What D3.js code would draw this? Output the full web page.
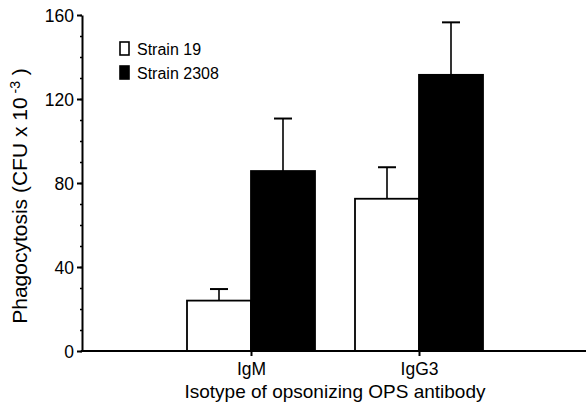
<!DOCTYPE html>
<html>
<head>
<meta charset="utf-8">
<script src="https://cdn.jsdelivr.net/npm/d3@7"></script>
<style>
  body { margin: 0; background: #fff; }
  text { font-family: "Liberation Sans", Arial, Helvetica, sans-serif; fill: #000; }
</style>
</head>
<body>
<div id="chart"></div>
<script>
let isotypes = ["IgM", "IgG3"];
let strains = ["Strain 19", "Strain 2308"];
let strain19 = [24, 72.5];
let strain2308 = [85.7, 131.5];
let err19 = [5.5, 15];
let err2308 = [25, 25];
let yTicks = [0, 40, 80, 120, 160];
let yMinor = d3.range(0, 161, 10);

let width = 586, height = 409;
let axisX = 82;

let svg = d3.select("#chart")
  .append("svg")
  .attr("width", width)
  .attr("height", height);

let y = d3.scaleLinear().domain([0, 160]).range([351, 15]);
let x = d3.scalePoint().domain(isotypes).range([axisX + 1, width + 1]).padding(1);
let sub = d3.scaleBand().domain(strains).range([-64, 64]);
let fill = d3.scaleOrdinal().domain(strains).range(["#fff", "#000"]);

let rows = [];
isotypes.forEach(function (iso, i) {
  rows.push({ iso: iso, strain: strains[0], value: strain19[i], err: err19[i] });
  rows.push({ iso: iso, strain: strains[1], value: strain2308[i], err: err2308[i] });
});

// error bars (upper half only)
let eb = svg.append("g").attr("stroke", "#000").attr("stroke-width", 1.6);
rows.forEach(function (d) {
  let cx = x(d.iso) + sub(d.strain) + sub.bandwidth() / 2;
  eb.append("line")
    .attr("x1", cx).attr("x2", cx)
    .attr("y1", y(d.value)).attr("y2", y(d.value + d.err));
  eb.append("line")
    .attr("x1", cx - 9).attr("x2", cx + 9)
    .attr("y1", y(d.value + d.err)).attr("y2", y(d.value + d.err))
    .attr("stroke-width", 2);
});

// bars
svg.append("g")
  .selectAll("rect")
  .data(rows)
  .enter()
  .append("rect")
  .attr("x", function (d) { return x(d.iso) + sub(d.strain); })
  .attr("width", sub.bandwidth())
  .attr("y", function (d) { return y(d.value); })
  .attr("height", function (d) { return y(0) - y(d.value); })
  .attr("fill", function (d) { return fill(d.strain); })
  .attr("stroke", "#000")
  .attr("stroke-width", 1.8);

// y axis minor ticks
svg.append("g")
  .attr("transform", "translate(" + axisX + ",0)")
  .call(d3.axisLeft(y).tickValues(yMinor).tickSize(2).tickFormat(""))
  .call(function (g) { g.select(".domain").remove(); })
  .selectAll("line").attr("stroke-width", 1.5);

// y axis
let yAxis = svg.append("g")
  .attr("transform", "translate(" + axisX + ",0)")
  .call(d3.axisLeft(y).tickValues(yTicks).tickSize(5).tickSizeOuter(0).tickPadding(3));
yAxis.select(".domain").attr("stroke-width", 2);
yAxis.selectAll("line").attr("stroke-width", 2);
yAxis.selectAll("text").style("font-size", "17.5px").attr("dy", "0.36em");

// x axis
let xAxis = svg.append("g")
  .attr("transform", "translate(0," + y(0) + ")")
  .call(d3.axisBottom(x).tickSize(5).tickSizeOuter(0).tickPadding(7));
xAxis.select(".domain").attr("stroke-width", 2).attr("d", "M" + (axisX - 1) + ",0H" + width);
xAxis.selectAll("line").attr("stroke-width", 2);
xAxis.selectAll("text").style("font-size", "17.5px");

// axis titles
svg.append("text")
  .attr("x", 335)
  .attr("y", 398)
  .style("text-anchor", "middle")
  .style("font-size", "19px")
  .text("Isotype of opsonizing OPS antibody");

let yTitle = svg.append("text")
  .attr("transform", "translate(27,196) rotate(-90)")
  .style("text-anchor", "middle")
  .style("font-size", "21px");
yTitle.append("tspan").text("Phagocytosis (CFU x 10");
yTitle.append("tspan").attr("dy", "-0.5em").style("font-size", "14px").text(" -3");
yTitle.append("tspan").attr("dy", "0.33em").text(" )");

// legend
let legend = svg.append("g");
strains.forEach(function (s, i) {
  legend.append("rect")
    .attr("x", 120).attr("y", 42 + i * 24)
    .attr("width", 9).attr("height", 13)
    .attr("fill", fill(s))
    .attr("stroke", "#000")
    .attr("stroke-width", 1.6);
  legend.append("text")
    .attr("x", 137).attr("y", 55 + i * 24)
    .style("font-size", "16px")
    .text(s);
});
</script>
</body>
</html>
